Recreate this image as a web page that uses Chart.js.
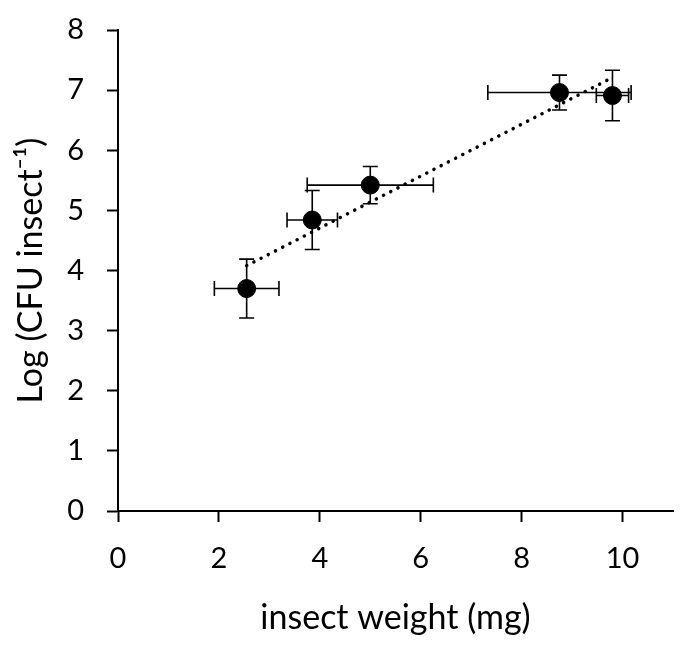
<!DOCTYPE html>
<html>
<head>
<meta charset="utf-8">
<script src="https://cdn.jsdelivr.net/npm/chart.js@4"></script>
<style>
  html, body { margin:0; padding:0; background:#fff; }
  #wrap { width:691px; height:650px; }
</style>
</head>
<body>
<div id="wrap"><canvas id="chart"></canvas></div>
<script>
// ---- Data ----
const weight    = [2.55, 3.85, 5.0, 8.75, 9.8];   // mg
const weightErr = [0.64, 0.5, 1.25, 1.42, 0.32];
const logCfu    = [3.7, 4.84, 5.42, 6.96, 6.91];
const logCfuErr = [0.49, 0.49, 0.31, 0.29, 0.42];
const trendX = [2.55, 9.8];
const trendY = [4.08, 7.21];
const xTicks = [0, 2, 4, 6, 8, 10];
const yTicks = [0, 1, 2, 3, 4, 5, 6, 7, 8];

const font = "Lato, 'Open Sans', sans-serif";

// ---- Error bars plugin ----
const errorBars = {
  id: 'errorBars',
  afterDatasetsDraw(chart){
    const { ctx, scales:{ x, y } } = chart;
    const cap = 7.5;
    ctx.save();
    ctx.strokeStyle = '#000';
    ctx.lineWidth = 1.6;
    weight.forEach((w, i) => {
      const px = x.getPixelForValue(w), py = y.getPixelForValue(logCfu[i]);
      const x1 = x.getPixelForValue(w - weightErr[i]), x2 = x.getPixelForValue(w + weightErr[i]);
      const y1 = y.getPixelForValue(logCfu[i] - logCfuErr[i]), y2 = y.getPixelForValue(logCfu[i] + logCfuErr[i]);
      ctx.beginPath();
      ctx.moveTo(x1, py); ctx.lineTo(x2, py);
      ctx.moveTo(x1, py - cap); ctx.lineTo(x1, py + cap);
      ctx.moveTo(x2, py - cap); ctx.lineTo(x2, py + cap);
      ctx.moveTo(px, y1); ctx.lineTo(px, y2);
      ctx.moveTo(px - cap, y1); ctx.lineTo(px + cap, y1);
      ctx.moveTo(px - cap, y2); ctx.lineTo(px + cap, y2);
      ctx.stroke();
    });
    ctx.restore();
  }
};

new Chart(document.getElementById('chart'), {
  type: 'scatter',
  data: {
    datasets: [
      {
        label: 'data',
        data: weight.map((w, i) => ({ x: w, y: logCfu[i] })),
        backgroundColor: '#000',
        borderColor: '#000',
        pointRadius: 9,
        pointHoverRadius: 9,
        order: 1
      },
      {
        label: 'trend',
        type: 'line',
        data: trendX.map((v, i) => ({ x: v, y: trendY[i] })),
        borderColor: '#000',
        borderWidth: 3.5,
        borderDash: [0.1, 8],
        borderCapStyle: 'round',
        pointRadius: 0,
        fill: false,
        order: 2
      }
    ]
  },
  plugins: [errorBars],
  options: {
    responsive: true,
    maintainAspectRatio: false,
    animation: false,
    layout: { padding: { left: 0, right: 18, top: 30, bottom: 0 } },
    plugins: { legend: { display: false }, tooltip: { enabled: false } },
    scales: {
      x: {
        type: 'linear', min: 0, max: 11,
        afterBuildTicks: s => { s.ticks = xTicks.map(v => ({ value: v })); },
        afterFit: s => { s.height = 139; s.paddingLeft = 0; s.paddingRight = 0; },
        border: { color: '#000', width: 2 },
        grid: { drawOnChartArea: false, drawTicks: true, tickLength: 11, tickColor: '#000', tickWidth: 2 },
        ticks: { color: '#000', font: { family: font, size: 29 }, padding: 19 },
        title: { display: true, text: 'insect weight (mg)', color: '#000', font: { family: font, size: 34 }, padding: { top: 0, bottom: 12 } }
      },
      y: {
        type: 'linear', min: 0, max: 8,
        afterBuildTicks: s => { s.ticks = yTicks.map(v => ({ value: v })); },
        afterFit: s => { s.width = 118; s.paddingTop = 0; s.paddingBottom = 0; },
        border: { color: '#000', width: 2 },
        grid: { drawOnChartArea: false, drawTicks: true, tickLength: 11, tickColor: '#000', tickWidth: 2 },
        ticks: { color: '#000', font: { family: font, size: 29 }, padding: 23 },
        title: { display: true, text: 'Log (CFU insect⁻¹)', color: '#000', font: { family: font, size: 34 }, padding: { top: 11, bottom: 0 } }
      }
    }
  }
});
</script>
</body>
</html>
